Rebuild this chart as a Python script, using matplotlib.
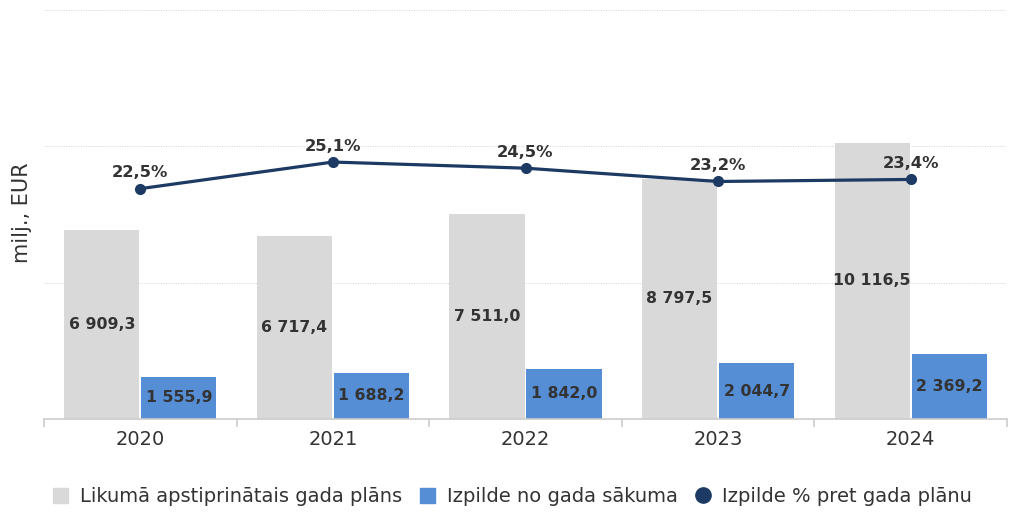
import matplotlib.pyplot as plt
from matplotlib.lines import Line2D
from matplotlib.patches import Patch

years = ['2020', '2021', '2022', '2023', '2024']
plan = [6909.3, 6717.4, 7511.0, 8797.5, 10116.5]
done = [1555.9, 1688.2, 1842.0, 2044.7, 2369.2]
pct = [22.5, 25.1, 24.5, 23.2, 23.4]

c_grey = '#d9d9d9'
c_blue = '#558ed5'
c_navy = '#1c3a63'
c_text = '#333333'

def fmt(v):
    s = f'{v:,.1f}'
    return s.replace(',', ' ').replace('.', ',')

fig = plt.figure(figsize=(10.09, 5.12), dpi=100)
ax = fig.add_axes([44/1009, 1-419/512, 963/1009, 409.5/512])
x = list(range(len(years)))
w = 0.39
xg = [i - 0.2 for i in x]
xb = [i + 0.2 for i in x]
ax.bar(xg, plan, width=w, color=c_grey, zorder=2)
ax.bar(xb, done, width=w, color=c_blue, zorder=2)
for xi, v in zip(xg, plan):
    ax.text(xi, v/2, fmt(v), ha='center', va='center', fontsize=11.3,
            fontweight='bold', color=c_text, zorder=3)
for xi, v in zip(xb, done):
    ax.text(xi, v/2, fmt(v), ha='center', va='center', fontsize=11.3,
            fontweight='bold', color=c_text, zorder=3)

ax.set_xlim(-0.5, 4.5)
ax.set_ylim(0, 15000)
ax.set_yticks([0, 5000, 10000, 15000])
ax.set_yticklabels([])
ax.tick_params(axis='y', length=0)
ax.grid(axis='y', color='#d4d4d4', linestyle=(0, (1, 1.5)), linewidth=0.7, zorder=0)
for s in ['top', 'right', 'left']:
    ax.spines[s].set_visible(False)
ax.spines['bottom'].set_color('#cccccc')
ax.spines['bottom'].set_linewidth(1.2)
ax.set_xticks([-0.5, 0.5, 1.5, 2.5, 3.5, 4.5])
ax.set_xticklabels([])
ax.tick_params(axis='x', which='major', length=6, color='#cccccc', width=1.2)
ax.set_xticks(x, minor=True)
ax.set_xticklabels(years, minor=True, fontsize=14, color=c_text)
ax.tick_params(axis='x', which='minor', length=0, pad=8)

ax2 = ax.twinx()
ax2.set_ylim(0, 40)
ax2.axis('off')
ax2.plot(x, pct, color=c_navy, linewidth=2.3, marker='o', markersize=7, zorder=4)
for xi, p in zip(x, pct):
    ax2.annotate(f'{p:.1f}%'.replace('.', ','), (xi, p), xytext=(0, 6),
                 textcoords='offset points', ha='center', va='bottom',
                 fontsize=11.8, fontweight='bold', color=c_text)

fig.text(22/1009, 1-213/512, 'milj., EUR', rotation=90, ha='center', va='center',
         fontsize=15, color=c_text)

handles = [
    Patch(color=c_grey, label='Likumā apstiprinātais gada plāns'),
    Patch(color=c_blue, label='Izpilde no gada sākuma'),
    Line2D([], [], color=c_navy, marker='o', linestyle='none', markersize=11,
           label='Izpilde % pret gada plānu'),
]
fig.legend(handles=handles, loc='center', bbox_to_anchor=(0.508, 1-497/512), ncol=3,
           frameon=False, fontsize=14, labelcolor=c_text, handlelength=0.8,
           handleheight=0.8, handletextpad=0.6, columnspacing=0.9)

fig.savefig('out.png', dpi=100)
